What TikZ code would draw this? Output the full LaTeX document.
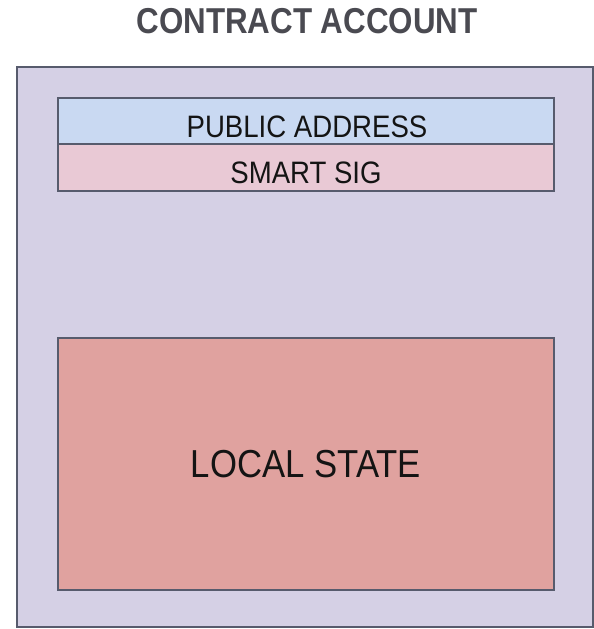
\documentclass[tikz,border=0pt]{standalone}
\usepackage{fontspec}
\setmainfont{Liberation Sans}
\newfontfamily\labelfont[FakeStretch=0.89]{Liberation Sans}
\newfontfamily\titlefont[FakeStretch=0.87]{Liberation Sans}
\definecolor{frameline}{HTML}{575B6D}
\definecolor{accountfill}{HTML}{D5D0E5}
\definecolor{addressfill}{HTML}{C9D9F2}
\definecolor{sigfill}{HTML}{E9C9D5}
\definecolor{statefill}{HTML}{E0A29F}
\definecolor{titlegray}{HTML}{4A4A51}
\definecolor{labelink}{HTML}{141414}
\tikzset{
  panel/.style={draw=frameline, line width=1.8pt, rectangle, inner sep=0pt},
  boxlabel/.style={anchor=base, inner sep=0pt, text=labelink},
}
\begin{document}
\begin{tikzpicture}[x=1pt, y=-1pt]
  \useasboundingbox (0,0) rectangle (594,629);
  % title
  \node[anchor=base, inner sep=0pt, text=titlegray,
        font=\titlefont\fontsize{36}{40}\selectfont\bfseries] (title) at (307,33) {CONTRACT ACCOUNT};
  % account container
  \node[panel, fill=accountfill, minimum width=576pt, minimum height=560pt] (account) at (305,347) {};
  % header fields
  \node[panel, fill=addressfill, minimum width=496pt, minimum height=46pt] (address) at (306,121) {};
  \node[panel, fill=sigfill, minimum width=496pt, minimum height=47pt] (sig) at (306,167.5) {};
  % storage
  \node[panel, fill=statefill, minimum width=496pt, minimum height=252pt] (state) at (306,464) {};
  % labels
  \node[boxlabel, font=\labelfont\fontsize{31}{34}\selectfont] (addresstext) at (307,137) {PUBLIC ADDRESS};
  \node[boxlabel, font=\labelfont\fontsize{31}{34}\selectfont] (sigtext) at (306,183) {SMART SIG};
  \node[boxlabel, font=\labelfont\fontsize{39}{42}\selectfont] (statetext) at (306,477) {LOCAL STATE};
\end{tikzpicture}
\end{document}
